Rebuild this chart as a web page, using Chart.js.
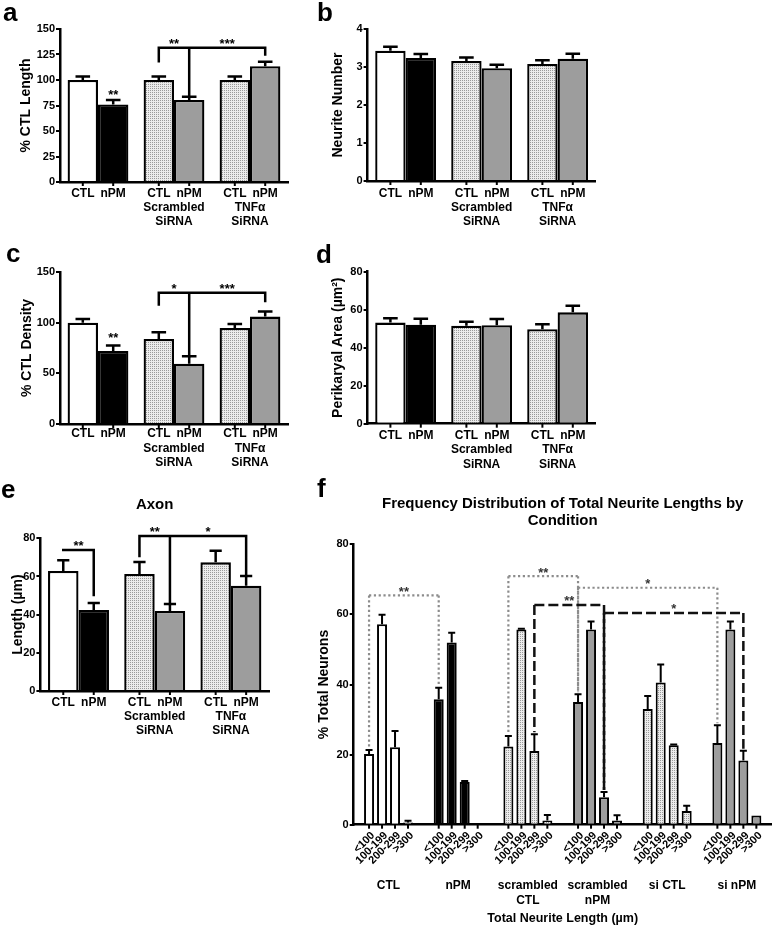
<!DOCTYPE html>
<html>
<head>
<meta charset="utf-8">
<title>Neurite outgrowth panels</title>
<script src="https://cdn.jsdelivr.net/npm/chart.js@4.4.1/dist/chart.umd.min.js"></script>
<style>
  body { margin: 0; background: #fff; }
  #figure { position: relative; width: 778px; height: 929px; overflow: hidden; background: #fff; font-family: "Liberation Sans", Arial, sans-serif; }
  #figure canvas { position: absolute; }
  .tag { position: absolute; font-size: 26px; line-height: 26px; font-weight: bold; color: #000; }
</style>
</head>
<body>
<div id="figure">
  <canvas id="lengthChart" width="300" height="240" style="left:0;top:0"></canvas>
  <canvas id="neuriteChart" width="300" height="240" style="left:300px;top:0"></canvas>
  <canvas id="densityChart" width="300" height="240" style="left:0;top:240px"></canvas>
  <canvas id="areaChart" width="300" height="240" style="left:300px;top:240px"></canvas>
  <canvas id="axonChart" width="290" height="262" style="left:0;top:480px"></canvas>
  <canvas id="binsChart" width="488" height="449" style="left:290px;top:480px"></canvas>
  <div class="tag" style="left:3px;top:-1px">a</div>
  <div class="tag" style="left:317px;top:-1px">b</div>
  <div class="tag" style="left:6px;top:240px">c</div>
  <div class="tag" style="left:316px;top:241px">d</div>
  <div class="tag" style="left:1px;top:476px">e</div>
  <div class="tag" style="left:317px;top:475px">f</div>
</div>
<script>
// groups on the x axis of panels a-e
const groupNames = ["", ["Scrambled", "SiRNA"], ["TNFα", "SiRNA"]];
const treatments = ["CTL", "nPM"];

// a: % CTL length
const lengthCtl = [100, 100, 100];
const lengthCtlSem = [3.5, 3.5, 3.5];
const lengthNpm = [76, 80.5, 113.5];
const lengthNpmSem = [4.5, 3, 4.5];

// b: neurite number
const neuriteCtl = [3.43, 3.16, 3.08];
const neuriteCtlSem = [0.1, 0.09, 0.1];
const neuriteNpm = [3.24, 2.97, 3.22];
const neuriteNpmSem = [0.1, 0.09, 0.13];

// c: % CTL density
const densityCtl = [100, 84, 94.7];
const densityCtlSem = [3.5, 6.5, 4];
const densityNpm = [72, 59.5, 106];
const densityNpmSem = [5.5, 7.3, 5];

// d: perikaryal area
const areaCtl = [53.2, 51.6, 49.7];
const areaCtlSem = [2.3, 2.1, 2.6];
const areaNpm = [52.1, 51.8, 58.6];
const areaNpmSem = [3.2, 3.3, 3.5];

// e: axon length
const axonCtl = [62.9, 61.3, 67.4];
const axonCtlSem = [5.6, 6.3, 6.1];
const axonNpm = [42.4, 41.9, 55.2];
const axonNpmSem = [3.7, 3.7, 5];

// f: frequency distribution
const conditions = [["CTL"], ["nPM"], ["scrambled", "CTL"], ["scrambled", "nPM"], ["si CTL"], ["si nPM"]];
const lengthBins = ["<100", "100-199", "200-299", ">300"];
const binUnder100 = [20.2, 35.8, 22.3, 35, 33, 23.3];
const binUnder100Sem = [1.1, 3.3, 3, 2.2, 3.7, 5.1];
const bin100to199 = [57.2, 52, 55.7, 55.7, 40.6, 55.7];
const bin100to199Sem = [2.7, 2.8, 0.2, 2.3, 5.1, 2.3];
const bin200to299 = [22.1, 12.2, 21, 7.8, 22.7, 18.3];
const bin200to299Sem = [4.6, 0.3, 4.8, 1.5, 0.2, 2.8];
const binOver300 = [0.6, 0, 1.2, 1.2, 3.9, 2.6];
const binOver300Sem = [0.5, 0, 1.6, 1.5, 1.5, 0];

// significance brackets; legs are [group, series(, end value)]
const lengthBrackets = [{ top: 131.5, legs: [[1, 0, 118.5], [1, 1], [2, 1, 125]], labels: [["**", 0, 1], ["***", 1, 2]] }];
const lengthMarks = [{ text: "**", bar: [0, 1], at: 88.5 }];
const densityBrackets = [{ top: 129.6, legs: [[1, 0, 118], [1, 1], [2, 1, 121.4]], labels: [["*", 0, 1], ["***", 1, 2]] }];
const densityMarks = [{ text: "**", bar: [0, 1], at: 87.8 }];
const axonBrackets = [
  { top: 73.9, legs: [[0, 0, 73.9], [0, 1, 50.3]], labels: [["**", 0, 1]] },
  { top: 81.2, legs: [[1, 0, 70.7], [1, 1], [2, 1]], labels: [["**", 0, 1], ["*", 1, 2]] },
];
const binBrackets = [
  { style: "dotted", top: 65.4, legs: [[0, 0], [1, 0]], labels: [["**", 0, 1]] },
  { style: "dotted", top: 70.9, legs: [[2, 0], [3, 0]], labels: [["**", 0, 1]] },
  { style: "dotted", top: 67.6, legs: [[3, 0], [5, 0]], labels: [["*", 0, 1]] },
  { style: "dashed", top: 62.7, legs: [[2, 2], [3, 2]], labels: [["**", 0, 1]] },
  { style: "dashed", top: 60.4, legs: [[3, 2], [5, 2]], labels: [["*", 0, 1]] },
];

const GRAY = "#9d9d9d";
const FONT = "'Liberation Sans', Arial, Helvetica, sans-serif";
const LINE_STYLES = {
  solid: { color: "#000", width: 2.5, dash: [], text: "#000" },
  dotted: { color: "#8c8c8c", width: 2.2, dash: [2.2, 2.6], text: "#333" },
  dashed: { color: "#111", width: 2.5, dash: [10, 4], text: "#333" },
};

Chart.defaults.font.family = FONT;
Chart.defaults.color = "#000";

// fine dot grid used for the "CTL" siRNA bars
const tile = document.createElement("canvas");
tile.width = 2;
tile.height = 2;
const tileCtx = tile.getContext("2d");
tileCtx.fillStyle = "#ececec";
tileCtx.fillRect(0, 0, 2, 2);
tileCtx.fillStyle = "#9a9a9a";
tileCtx.fillRect(0, 0, 1, 1);

const stippleFor = (canvas) => canvas.getContext("2d").createPattern(tile, "repeat");

const errorBarsPlugin = (cap, width) => ({
  id: "errorBars",
  afterDatasetsDraw(chart) {
    const { ctx } = chart;
    const y = chart.scales.y;
    ctx.save();
    ctx.strokeStyle = "#000";
    ctx.lineWidth = width;
    chart.data.datasets.forEach((ds, i) => {
      chart.getDatasetMeta(i).data.forEach((bar, j) => {
        const sem = ds.sem[j];
        if (!sem) {
          return;
        }
        const top = y.getPixelForValue(ds.data[j] + sem);
        const half = (bar.width * cap) / 2;
        ctx.beginPath();
        ctx.moveTo(bar.x, bar.y);
        ctx.lineTo(bar.x, top);
        ctx.moveTo(bar.x - half, top);
        ctx.lineTo(bar.x + half, top);
        ctx.stroke();
      });
    });
    ctx.restore();
  },
});

// CTL / nPM under every bar plus the little tick marks
const barMarksPlugin = (gap) => ({
  id: "barMarks",
  afterDraw(chart) {
    const { ctx } = chart;
    const axisY = chart.scales.x.top;
    ctx.save();
    ctx.font = `bold 12px ${FONT}`;
    ctx.textAlign = "center";
    ctx.textBaseline = "middle";
    ctx.fillStyle = "#000";
    ctx.strokeStyle = "#000";
    ctx.lineWidth = 2;
    chart.data.datasets.forEach((ds, i) => {
      chart.getDatasetMeta(i).data.forEach((bar) => {
        ctx.beginPath();
        ctx.moveTo(bar.x, axisY);
        ctx.lineTo(bar.x, axisY + 4);
        ctx.stroke();
        ctx.fillText(ds.label, bar.x, axisY + gap);
      });
    });
    ctx.restore();
  },
});

const bracketsPlugin = (items, marks, legGap) => ({
  id: "brackets",
  afterDraw(chart) {
    const { ctx } = chart;
    const y = chart.scales.y;
    const barOf = ([g, s]) => chart.getDatasetMeta(s).data[g];
    const errTop = ([g, s]) => {
      const ds = chart.data.datasets[s];
      return y.getPixelForValue(ds.data[g] + ds.sem[g]) - legGap;
    };
    const star = (text, x, cy) => ctx.fillText(text, x, cy + 13 * 0.57);

    ctx.save();
    ctx.font = `bold 13px ${FONT}`;
    ctx.textAlign = "center";
    ctx.textBaseline = "alphabetic";
    items.forEach((item) => {
      const look = LINE_STYLES[item.style || "solid"];
      const topY = y.getPixelForValue(item.top);
      const xs = item.legs.map((leg) => barOf(leg).x);
      ctx.strokeStyle = look.color;
      ctx.lineWidth = look.width;
      ctx.lineCap = look.dash.length ? "butt" : "square";
      ctx.setLineDash(look.dash);
      ctx.beginPath();
      ctx.moveTo(xs[0], topY);
      ctx.lineTo(xs[xs.length - 1], topY);
      item.legs.forEach((leg, k) => {
        const end = leg.length > 2 ? y.getPixelForValue(leg[2]) : errTop(leg);
        ctx.moveTo(xs[k], topY);
        ctx.lineTo(xs[k], end);
      });
      ctx.stroke();
      ctx.setLineDash([]);
      ctx.fillStyle = look.text;
      item.labels.forEach(([text, a, b]) => star(text, (xs[a] + xs[b]) / 2, topY - 7));
    });
    ctx.fillStyle = "#000";
    marks.forEach((mark) => star(mark.text, barOf(mark.bar).x, y.getPixelForValue(mark.at)));
    ctx.restore();
  },
});

// rotated bin names and tick marks under each bar of panel f
const binTicksPlugin = () => ({
  id: "binTicks",
  afterDraw(chart) {
    const { ctx } = chart;
    const axisY = chart.scales.x.top;
    ctx.save();
    ctx.font = `bold 11px ${FONT}`;
    ctx.fillStyle = "#000";
    ctx.strokeStyle = "#000";
    ctx.lineWidth = 2;
    ctx.textAlign = "right";
    ctx.textBaseline = "middle";
    chart.data.datasets.forEach((ds, s) => {
      chart.getDatasetMeta(s).data.forEach((bar) => {
        ctx.beginPath();
        ctx.moveTo(bar.x, axisY);
        ctx.lineTo(bar.x, axisY + 4);
        ctx.stroke();
        ctx.save();
        ctx.translate(bar.x + 4, axisY + 9);
        ctx.rotate(-Math.PI / 4);
        ctx.fillText(ds.label, 0, 0);
        ctx.restore();
      });
    });
    ctx.restore();
  },
});

const yAxis = (max, step, text, yWidth, titleSize = 14) => ({
  min: 0,
  max,
  ticks: { stepSize: step, padding: 1, font: { size: 11, weight: "bold" } },
  grid: { drawOnChartArea: false, color: "#000", lineWidth: 2, tickLength: 4 },
  border: { color: "#000", width: 2.5 },
  title: { display: true, text, padding: 0, font: { size: titleSize, weight: "bold" } },
  afterFit: (scale) => {
    scale.width = yWidth;
  },
});

const xAxis = (groupPad, xHeight, extra = {}) => ({
  grid: { display: false, drawTicks: false },
  border: { color: "#000", width: 2.5 },
  ticks: { padding: groupPad, autoSkip: false, maxRotation: 0, minRotation: 0, font: { size: 12, weight: "bold" } },
  afterFit: (scale) => {
    scale.height = xHeight;
    scale.paddingLeft = 0;
    scale.paddingRight = 0;
  },
  ...extra,
});

const buildPanel = (canvasId, spec) => {
  const canvas = document.getElementById(canvasId);
  const stipple = stippleFor(canvas);
  const frame = spec.frame;

  new Chart(canvas, {
    data: {
      datasets: [
        {
          backgroundColor: ["#ffffff", stipple, stipple],
          barPercentage: 1,
          borderColor: "#000",
          borderWidth: 2.3,
          categoryPercentage: 0.8,
          data: spec.ctl,
          label: treatments[0],
          sem: spec.ctlSem,
        },
        {
          backgroundColor: ["#000000", GRAY, GRAY],
          barPercentage: 1,
          borderColor: "#000",
          borderWidth: 2.3,
          categoryPercentage: 0.8,
          data: spec.npm,
          label: treatments[1],
          sem: spec.npmSem,
        },
      ],
      labels: groupNames,
    },
    options: {
      animation: false,
      events: [],
      layout: { padding: frame.pad },
      plugins: {
        legend: { display: false },
        title: spec.title
          ? {
              color: "#000",
              display: true,
              font: { size: 15, weight: "bold" },
              fullSize: false,
              padding: spec.titlePad,
              text: spec.title,
            }
          : { display: false },
        tooltip: { enabled: false },
      },
      responsive: false,
      scales: {
        x: xAxis(frame.groupPad, frame.xHeight),
        y: yAxis(spec.max, spec.step, spec.yTitle, frame.yWidth),
      },
    },
    plugins: [
      errorBarsPlugin(spec.cap || 0.48, 2.5),
      barMarksPlugin(frame.labelGap),
      bracketsPlugin(spec.brackets || [], spec.marks || [], 0),
    ],
    type: "bar",
  });
};

buildPanel("lengthChart", {
  brackets: lengthBrackets,
  ctl: lengthCtl,
  ctlSem: lengthCtlSem,
  frame: { groupPad: 18, labelGap: 11.3, pad: { bottom: 8, left: 18, right: 12, top: 29 }, xHeight: 50, yWidth: 42 },
  marks: lengthMarks,
  max: 150,
  npm: lengthNpm,
  npmSem: lengthNpmSem,
  step: 25,
  yTitle: "% CTL Length",
});

buildPanel("neuriteChart", {
  ctl: neuriteCtl,
  ctlSem: neuriteCtlSem,
  frame: { groupPad: 19, labelGap: 12.3, pad: { bottom: 9, left: 29.6, right: 4.4, top: 29 }, xHeight: 50, yWidth: 38 },
  max: 4,
  npm: neuriteNpm,
  npmSem: neuriteNpmSem,
  step: 1,
  yTitle: "Neurite Number",
});

buildPanel("densityChart", {
  brackets: densityBrackets,
  ctl: densityCtl,
  ctlSem: densityCtlSem,
  frame: { groupPad: 17, labelGap: 9.5, pad: { bottom: 6, left: 19, right: 12, top: 32 }, xHeight: 50, yWidth: 41 },
  marks: densityMarks,
  max: 150,
  npm: densityNpm,
  npmSem: densityNpmSem,
  step: 50,
  yTitle: "% CTL Density",
});

buildPanel("areaChart", {
  ctl: areaCtl,
  ctlSem: areaCtlSem,
  frame: { groupPad: 19, labelGap: 12, pad: { bottom: 6.3, left: 29.6, right: 4.4, top: 31.7 }, xHeight: 50, yWidth: 38 },
  max: 80,
  npm: areaNpm,
  npmSem: areaNpmSem,
  step: 20,
  yTitle: "Perikaryal Area (µm²)",
});

buildPanel("axonChart", {
  brackets: axonBrackets,
  cap: 0.4,
  ctl: axonCtl,
  ctlSem: axonCtlSem,
  frame: { groupPad: 18.5, labelGap: 11.3, pad: { bottom: 0, left: 9.6, right: 21, top: 8 }, xHeight: 51, yWidth: 30.8 },
  max: 80,
  npm: axonNpm,
  npmSem: axonNpmSem,
  step: 20,
  title: "Axon",
  titlePad: { bottom: 24.3, top: 8 },
  yTitle: "Length (µm)",
});

const binValues = [binUnder100, bin100to199, bin200to299, binOver300];
const binSems = [binUnder100Sem, bin100to199Sem, bin200to299Sem, binOver300Sem];
const binsCanvas = document.getElementById("binsChart");
const binStipple = stippleFor(binsCanvas);
const conditionFills = ["#ffffff", "#000000", binStipple, GRAY, binStipple, GRAY];

new Chart(binsCanvas, {
  data: {
    datasets: lengthBins.map((bin, s) => ({
      backgroundColor: conditionFills,
      barPercentage: 0.77,
      borderColor: "#000",
      borderWidth: 2,
      categoryPercentage: 0.746,
      data: binValues[s],
      label: bin,
      sem: binSems[s],
    })),
    labels: conditions,
  },
  options: {
    animation: false,
    events: [],
    layout: { padding: { bottom: 0, left: 25.6, right: 6.3, top: 8 } },
    plugins: {
      legend: { display: false },
      title: {
        color: "#000",
        display: true,
        font: { lineHeight: 1.1, size: 15, weight: "bold" },
        fullSize: false,
        padding: { bottom: 15.25, top: 8.05 },
        text: ["Frequency Distribution of Total Neurite Lengths by", "Condition"],
      },
      tooltip: { enabled: false },
    },
    responsive: false,
    scales: {
      x: xAxis(54, 104.3, {
        title: {
          display: true,
          font: { size: 12.5, weight: "bold" },
          padding: { bottom: 2.5, top: 0 },
          text: "Total Neurite Length (µm)",
        },
      }),
      y: yAxis(80, 20, "% Total Neurons", 38.1),
    },
  },
  plugins: [errorBarsPlugin(0.7, 2), binTicksPlugin(), bracketsPlugin(binBrackets, [], 2)],
  type: "bar",
});
</script>
</body>
</html>
